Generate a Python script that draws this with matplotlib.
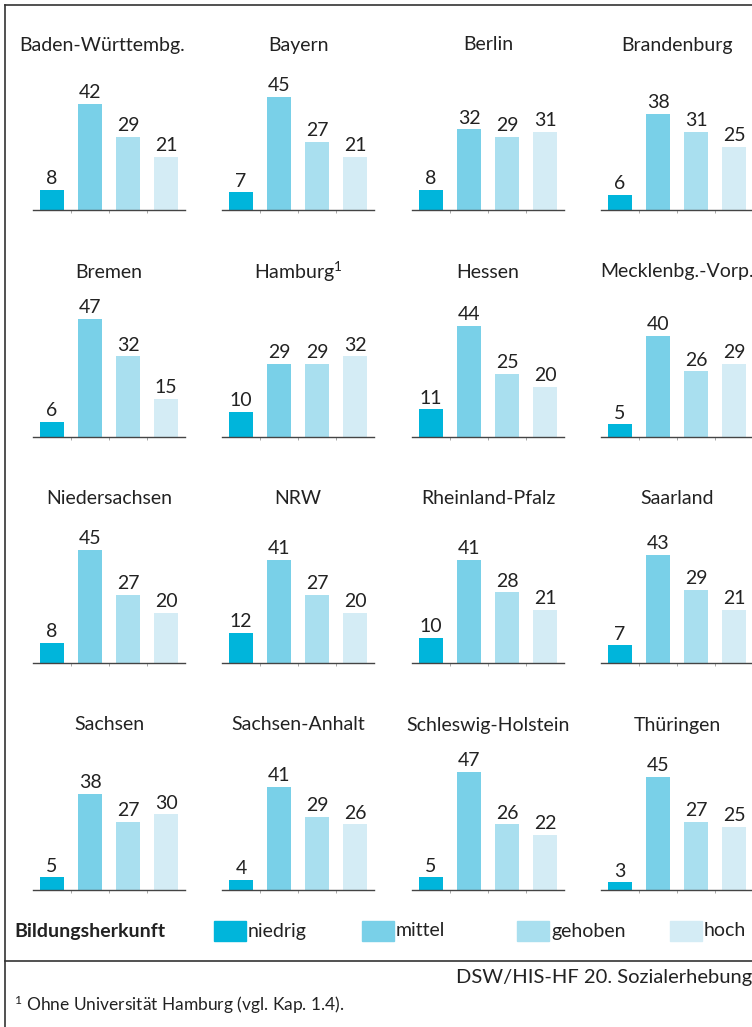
import matplotlib
matplotlib.use("Agg")
import matplotlib.pyplot as plt
from matplotlib.patches import Rectangle
from matplotlib.lines import Line2D

plt.rcParams['font.family'] = ['Lato', 'DejaVu Sans']
plt.rcParams['mathtext.fontset'] = 'custom'
plt.rcParams['mathtext.rm'] = 'Lato'
plt.rcParams['mathtext.it'] = 'Lato:italic'
plt.rcParams['mathtext.bf'] = 'Lato:bold'

W, H = 752, 1027
DPI = 100

states = ["Baden-Württembg.", "Bayern", "Berlin", "Brandenburg",
          "Bremen", r"Hamburg$^{1}$", "Hessen", "Mecklenbg.-Vorp.",
          "Niedersachsen", "NRW", "Rheinland-Pfalz", "Saarland",
          "Sachsen", "Sachsen-Anhalt", "Schleswig-Holstein", "Thüringen"]
niedrig = [8, 7, 8, 6, 6, 10, 11, 5, 8, 12, 10, 7, 5, 4, 5, 3]
mittel = [42, 45, 32, 38, 47, 29, 44, 40, 45, 41, 41, 43, 38, 41, 47, 45]
gehoben = [29, 27, 29, 31, 32, 29, 25, 26, 27, 27, 28, 29, 27, 29, 26, 27]
hoch = [21, 21, 31, 25, 15, 32, 20, 29, 20, 20, 21, 21, 30, 26, 22, 25]
categories = ["niedrig", "mittel", "gehoben", "hoch"]
colors = ["#00B5DB", "#79D0E8", "#A9DFEF", "#D4ECF5"]

fig = plt.figure(figsize=(W / DPI, H / DPI), dpi=DPI)

def fx(x):
    return x / W

def fy(y):
    return 1 - y / H

col_left = [33, 222, 412, 601]
row_base = [210, 437, 663, 890]
ax_w = 152
px_per_unit = 2.52
ymax = 60
ax_h = ymax * px_per_unit

txt_col = "#222222"
fs = 14

for i, name in enumerate(states):
    r, c = divmod(i, 4)
    left = col_left[c]
    base = row_base[r]
    ax = fig.add_axes([fx(left), fy(base), ax_w / W, ax_h / H])
    vals = [niedrig[i], mittel[i], gehoben[i], hoch[i]]
    xs = list(range(4))
    ax.bar(xs, vals, width=0.63, color=colors, zorder=2)
    ax.set_xlim(-0.5, 3.5)
    ax.set_ylim(0, ymax)
    for s in ["top", "right", "left"]:
        ax.spines[s].set_visible(False)
    ax.spines["bottom"].set_color("#444444")
    ax.spines["bottom"].set_linewidth(1.0)
    ax.set_yticks([])
    ax.set_xticks([0.5, 1.5, 2.5])
    ax.set_xticklabels([])
    ax.tick_params(axis="x", length=2, width=0.6, color="#999999", direction="out")
    for x, v in zip(xs, vals):
        ax.annotate(str(v), (x, v), xytext=(0, 2), textcoords="offset points",
                    ha="center", va="bottom", fontsize=fs, color=txt_col)
    cx = left + ax_w / 2
    if i == 0:
        cx -= 7
    fig.text(fx(cx), fy(base - 165), name, ha="center", va="center",
             fontsize=fs, color=txt_col)

# Legend
fig.text(fx(14), fy(931), "Bildungsherkunft", ha="left", va="center",
         fontsize=fs, fontweight="bold", color=txt_col)
leg_x = [214, 362, 517, 670]
for lx, lab, col in zip(leg_x, categories, colors):
    fig.patches.append(Rectangle((fx(lx), fy(941)), 32 / W, 20 / H,
                                 transform=fig.transFigure, color=col, zorder=2))
    fig.text(fx(lx + 34), fy(931), lab, ha="left", va="center",
             fontsize=fs, color=txt_col)

# Borders / separators
lc = "#333333"
fig.add_artist(Line2D([fx(5), fx(752)], [fy(5), fy(5)], color=lc, lw=1.2,
                      transform=fig.transFigure))
fig.add_artist(Line2D([fx(5), fx(5)], [fy(5), fy(1027)], color=lc, lw=1.2,
                      transform=fig.transFigure))
fig.add_artist(Line2D([fx(5), fx(752)], [fy(961), fy(961)], color=lc, lw=1.2,
                      transform=fig.transFigure))

fig.text(fx(752), fy(978), "DSW/HIS-HF 20. Sozialerhebung", ha="right", va="center",
         fontsize=14.5, color=txt_col)
fig.text(fx(14), fy(1005), r"$^{1}$ Ohne Universität Hamburg (vgl. Kap. 1.4).", ha="left",
         va="center", fontsize=12.5, color=txt_col)

fig.savefig("out.png", dpi=DPI)
